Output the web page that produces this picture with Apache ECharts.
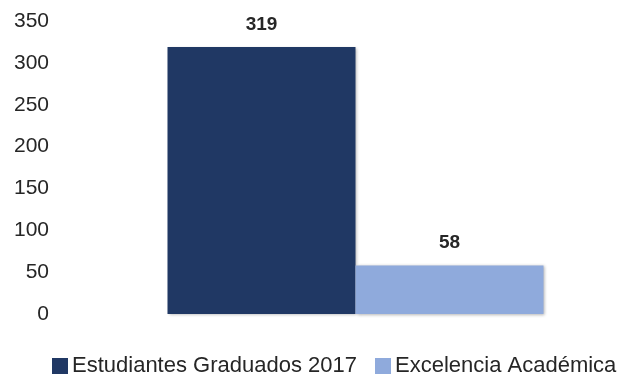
<!DOCTYPE html>
<html>
<head>
<meta charset="utf-8">
<script src="https://cdn.jsdelivr.net/npm/echarts@6/dist/echarts.min.js"></script>
<style>html,body{margin:0;padding:0;background:#fff;}#c{width:617px;height:377px;}</style>
</head>
<body>
<div id="c"></div>
<script>
const categories = [''];
const seriesNames = ['Estudiantes Graduados 2017', 'Excelencia Académica'];
const graduados = [319];
const excelencia = [58];
const yTicks = { min: 0, max: 350, interval: 50 };

const FONT = "'Liberation Sans Narrow', 'Arial Narrow', 'Liberation Sans', Arial, sans-serif";
const chart = echarts.init(document.getElementById('c'));
const labelStyle = { show: true, position: 'top', distance: 13, fontFamily: FONT, fontSize: 19, fontWeight: 'bold', color: '#262626' };
const legendBase = {
  top: 355, padding: 0, itemWidth: 16, itemHeight: 16, icon: 'rect',
  textStyle: { fontFamily: FONT, fontSize: 22, color: '#262626', padding: [0, 0, 0, -1] }
};
chart.setOption({
  animation: false,
  grid: { left: 130, right: 36, top: 21, bottom: 63, containLabel: false },
  legend: [
    Object.assign({ left: 52, data: [seriesNames[0]] }, legendBase),
    Object.assign({ left: 375, data: [seriesNames[1]] }, legendBase)
  ],
  xAxis: {
    type: 'category', data: categories,
    axisLine: { show: false }, axisTick: { show: false }, axisLabel: { show: false }
  },
  yAxis: {
    type: 'value', min: yTicks.min, max: yTicks.max, interval: yTicks.interval,
    axisLine: { show: false }, axisTick: { show: false }, splitLine: { show: false },
    axisLabel: { margin: 81, fontFamily: FONT, fontSize: 21, color: '#262626' }
  },
  series: [
    { name: seriesNames[0], type: 'bar', data: graduados, barWidth: 188, barGap: '0%',
      itemStyle: { color: '#203864', shadowColor: 'rgba(0,0,0,0.3)', shadowBlur: 3, shadowOffsetX: 1, shadowOffsetY: 1 },
      label: labelStyle },
    { name: seriesNames[1], type: 'bar', data: excelencia, barWidth: 188, barGap: '0%',
      itemStyle: { color: '#8FAADC', shadowColor: 'rgba(0,0,0,0.3)', shadowBlur: 3, shadowOffsetX: 1, shadowOffsetY: 1 },
      label: labelStyle }
  ]
});
</script>
</body>
</html>
